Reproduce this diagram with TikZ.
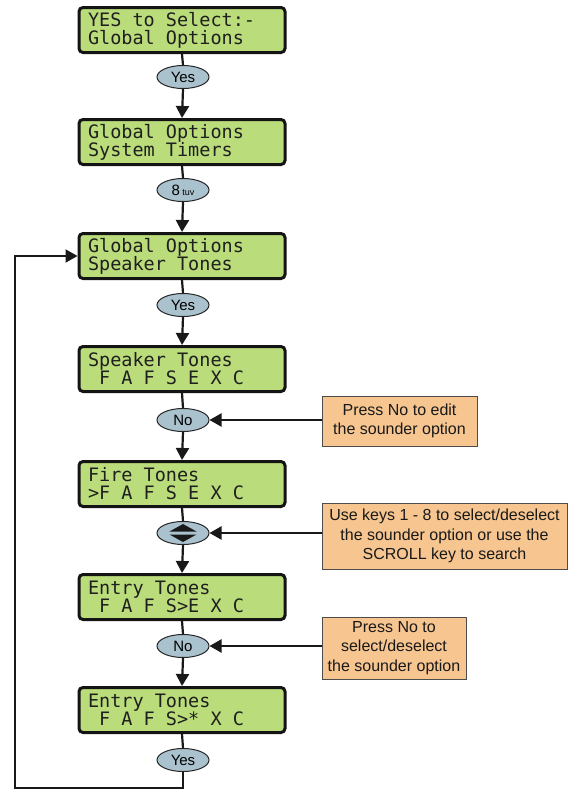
\documentclass[tikz,border=0pt]{standalone}
\usepackage{fontspec}
\setmainfont{Liberation Sans}
\newfontfamily\lcdfont{DejaVu Sans Mono}
\newcommand\lcdsetup{\lcdfont\fontsize{18.5}{18}\selectfont}
\newcommand\lsp{\leavevmode\hbox to 0.602em{}}
\usetikzlibrary{arrows.meta,shapes.geometric,calc}
\definecolor{lcdgreen}{RGB}{186,220,122}
\definecolor{keyblue}{RGB}{170,194,206}
\definecolor{noteorange}{RGB}{246,197,144}
\begin{document}
\begin{tikzpicture}[x=1pt,y=-1pt,
 lcd/.style={draw=black!92, line width=3pt, rounded corners=4pt, fill=lcdgreen, minimum width=206pt, minimum height=45pt, text width=188pt, align=left, inner xsep=0pt, font=\lcdsetup, text=black!88},
 key/.style={ellipse, draw=black!85, line width=1pt, fill=keyblue, minimum width=52pt, minimum height=23pt, inner sep=0pt, font=\fontsize{15}{15}\selectfont},
 note/.style={draw=black!70, line width=0.8pt, fill=noteorange, align=center, font=\fontsize{16}{19.5}\selectfont, inner sep=0pt, text=black!90},
 link/.style={line width=2.2pt, draw=black!90},
 arr/.style={link, -{Triangle[length=12pt,width=13pt]}},
]
\useasboundingbox (0,0) rectangle (570,793);

\node[lcd] (b1) at (182,30)  {YES\lsp to\lsp Select:-\\Global\lsp Options};
\node[lcd] (b2) at (182,142) {Global\lsp Options\\System\lsp Timers};
\node[lcd] (b3) at (182,256) {Global\lsp Options\\Speaker\lsp Tones};
\node[lcd] (b4) at (182,369) {Speaker\lsp Tones\\\lsp F\lsp A\lsp F\lsp S\lsp E\lsp X\lsp C};
\node[lcd] (b5) at (182,484) {Fire\lsp Tones\\>F\lsp A\lsp F\lsp S\lsp E\lsp X\lsp C};
\node[lcd] (b6) at (182,597) {Entry\lsp Tones\\\lsp F\lsp A\lsp F\lsp S>E\lsp X\lsp C};
\node[lcd] (b7) at (182,710) {Entry\lsp Tones\\\lsp F\lsp A\lsp F\lsp S>*\lsp X\lsp C};

\node[key] (k1) at (183,77)  {Yes};
\node[key] (k2) at (183,190) {8\,{\fontsize{9}{9}\selectfont tuv}};
\node[key] (k3) at (183,305) {Yes};
\node[key] (k4) at (183,420) {No};
\node[key] (k5) at (183,533) {};
\node[key] (k6) at (183,646) {No};
\node[key] (k7) at (183,760) {Yes};

\fill[black!90] (169.5,531.5) -- (196.5,531.5) -- (183,524) -- cycle;
\fill[black!90] (169.5,534.5) -- (196.5,534.5) -- (183,542) -- cycle;

\node[note, minimum width=155pt, minimum height=50pt] (n1) at (399.5,421) {Press No to edit\\the sounder option};
\node[note, minimum width=245pt, minimum height=66pt] (n2) at (444.5,536) {Use keys 1 - 8 to select/deselect\\the sounder option or use the\\SCROLL key to search};
\node[note, minimum width=144pt, minimum height=62pt] (n3) at (394,648) {Press No to\\select/deselect\\the sounder option};

\foreach \i/\j in {1/2,2/3,3/4,4/5,5/6,6/7}{
  \draw[link] (b\i.south) -- (k\i.north);
  \draw[arr] (k\i.south) -- (b\j.north);
}
\draw[link] (b7.south) -- (k7.north);

\draw[arr] (n1.west |- k4) -- (k4.east);
\draw[arr] (n2.west |- k5) -- (k5.east);
\draw[arr] (n3.west |- k6) -- (k6.east);

\coordinate (lc) at (15,788);
\draw[arr, line width=2pt] (k7.south) |- (lc) |- (b3.west);
\end{tikzpicture}
\end{document}
